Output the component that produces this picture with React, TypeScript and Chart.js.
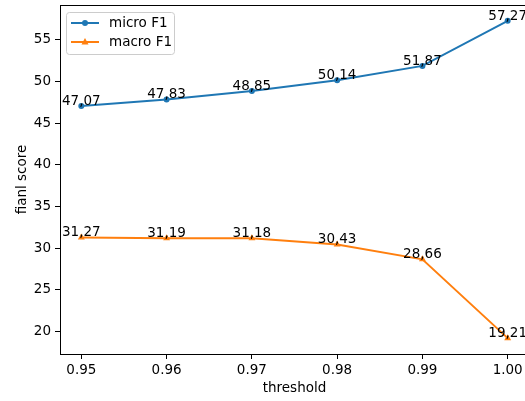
import React, { useEffect, useRef } from "react";
import { Chart, registerables } from "chart.js";

Chart.register(...registerables);

const thresholds = [0.95, 0.96, 0.97, 0.98, 0.99, 1.0];
const microF1 = [47.07, 47.83, 48.85, 50.14, 51.87, 57.27];
const macroF1 = [31.27, 31.19, 31.18, 30.43, 28.66, 19.21];
const xTickValues = [0.95, 0.96, 0.97, 0.98, 0.99, 1.0];
const yTickValues = [20, 25, 30, 35, 40, 45, 50, 55];
const seriesNames = ["micro F1", "macro F1"];

const BLUE = "#1f77b4";
const ORANGE = "#ff7f0e";
const FONT = "DejaVu Sans";
const FS = 13.5;

const CANVAS_W = 540;
const CANVAS_H = 401;

const labelPlugin = {
  id: "valueLabels",
  afterDatasetsDraw(chart: any) {
    const ctx = chart.ctx;
    ctx.save();
    ctx.font = `${FS}px "${FONT}"`;
    ctx.fillStyle = "#000";
    ctx.textAlign = "center";
    ctx.textBaseline = "bottom";
    chart.data.datasets.forEach((ds: any, di: number) => {
      const meta = chart.getDatasetMeta(di);
      meta.data.forEach((pt: any, i: number) => {
        const v = ds.data[i].y as number;
        ctx.fillText(v.toFixed(2).replace(".", ","), pt.x, pt.y + 2);
      });
    });
    ctx.restore();
  },
};

const framePlugin = {
  id: "topSpine",
  afterDraw(chart: any) {
    const { ctx, chartArea } = chart;
    ctx.save();
    ctx.strokeStyle = "#000";
    ctx.lineWidth = 1;
    ctx.beginPath();
    ctx.moveTo(chartArea.left, chartArea.top + 0.5);
    ctx.lineTo(chartArea.right, chartArea.top + 0.5);
    ctx.moveTo(chartArea.right - 0.5, chartArea.top);
    ctx.lineTo(chartArea.right - 0.5, chartArea.bottom);
    ctx.stroke();
    ctx.restore();
  },
};

const legendPlugin = {
  id: "mplLegend",
  afterDraw(chart: any) {
    const ctx = chart.ctx;
    const x0 = 66.5, y0 = 12.5, w = 108, h = 42;
    ctx.save();
    ctx.beginPath();
    const r = 3;
    ctx.moveTo(x0 + r, y0);
    ctx.lineTo(x0 + w - r, y0);
    ctx.quadraticCurveTo(x0 + w, y0, x0 + w, y0 + r);
    ctx.lineTo(x0 + w, y0 + h - r);
    ctx.quadraticCurveTo(x0 + w, y0 + h, x0 + w - r, y0 + h);
    ctx.lineTo(x0 + r, y0 + h);
    ctx.quadraticCurveTo(x0, y0 + h, x0, y0 + h - r);
    ctx.lineTo(x0, y0 + r);
    ctx.quadraticCurveTo(x0, y0, x0 + r, y0);
    ctx.closePath();
    ctx.fillStyle = "rgba(255,255,255,0.8)";
    ctx.fill();
    ctx.strokeStyle = "#cccccc";
    ctx.lineWidth = 1;
    ctx.stroke();
    const rows = [
      { y: 23, color: BLUE, style: "circle" },
      { y: 42, color: ORANGE, style: "triangle" },
    ];
    rows.forEach((row, i) => {
      ctx.strokeStyle = row.color;
      ctx.lineWidth = 2;
      ctx.beginPath();
      ctx.moveTo(71, row.y);
      ctx.lineTo(99, row.y);
      ctx.stroke();
      ctx.fillStyle = row.color;
      ctx.beginPath();
      if (row.style === "circle") {
        ctx.arc(85, row.y, 3, 0, Math.PI * 2);
      } else {
        ctx.moveTo(85, row.y - 4);
        ctx.lineTo(88.5, row.y + 2.5);
        ctx.lineTo(81.5, row.y + 2.5);
        ctx.closePath();
      }
      ctx.fill();
      ctx.fillStyle = "#000";
      ctx.font = `${FS}px "${FONT}"`;
      ctx.textAlign = "left";
      ctx.textBaseline = "middle";
      ctx.fillText(seriesNames[i], 109, row.y);
    });
    ctx.restore();
  },
};

export default function App() {
  const ref = useRef<HTMLCanvasElement | null>(null);
  useEffect(() => {
    if (!ref.current) return;
    const chart = new Chart(ref.current, {
      type: "line",
      data: {
        datasets: [
          {
            label: seriesNames[0],
            data: thresholds.map((t, i) => ({ x: t, y: microF1[i] })),
            borderColor: BLUE,
            backgroundColor: BLUE,
            borderWidth: 2,
            pointStyle: "circle",
            pointRadius: 3,
            pointBorderWidth: 0,
            tension: 0,
          },
          {
            label: seriesNames[1],
            data: thresholds.map((t, i) => ({ x: t, y: macroF1[i] })),
            borderColor: ORANGE,
            backgroundColor: ORANGE,
            borderWidth: 2,
            pointStyle: "triangle",
            pointRadius: 4,
            pointBorderWidth: 0,
            tension: 0,
          },
        ],
      },
      options: {
        responsive: false,
        animation: false,
        devicePixelRatio: 1,
        layout: { padding: { left: 0, top: 5, right: CANVAS_W - 529, bottom: 0 } },
        plugins: { legend: { display: false }, tooltip: { enabled: false } },
        scales: {
          x: {
            type: "linear",
            min: 0.9475,
            max: 1.0025,
            afterBuildTicks: (s: any) => {
              s.ticks = xTickValues.map((v) => ({ value: v }));
            },
            afterFit: (s: any) => {
              s.height = 47;
              s.paddingLeft = 0;
              s.paddingRight = 0;
            },
            ticks: {
              callback: (v: any) => Number(v).toFixed(2),
              font: { family: FONT, size: FS },
              color: "#000",
              padding: 3,
              maxRotation: 0,
              autoSkip: false,
            },
            grid: {
              drawOnChartArea: false,
              drawTicks: true,
              tickLength: 5,
              color: "#000",
            },
            border: { color: "#000", width: 1 },
            title: {
              display: true,
              text: "threshold",
              font: { family: FONT, size: FS },
              color: "#000",
              padding: { top: 0, bottom: 4 },
            },
          },
          y: {
            type: "linear",
            min: 17.307,
            max: 59.173,
            afterBuildTicks: (s: any) => {
              s.ticks = yTickValues.map((v) => ({ value: v }));
            },
            afterFit: (s: any) => {
              s.width = 60;
              s.paddingTop = 0;
              s.paddingBottom = 0;
            },
            ticks: {
              font: { family: FONT, size: FS },
              color: "#000",
              padding: 4,
            },
            grid: {
              drawOnChartArea: false,
              drawTicks: true,
              tickLength: 5,
              color: "#000",
            },
            border: { color: "#000", width: 1 },
            title: {
              display: true,
              text: "fianl score",
              font: { family: FONT, size: FS },
              color: "#000",
              padding: { top: 14, bottom: 0 },
            },
          },
        },
      } as any,
      plugins: [labelPlugin, framePlugin, legendPlugin],
    });
    return () => chart.destroy();
  }, []);
  return (
    <div
      style={{
        position: "fixed",
        left: 0,
        top: 0,
        width: 525,
        height: 401,
        overflow: "hidden",
        background: "#fff",
      }}
    >
      <canvas
        ref={ref}
        width={CANVAS_W}
        height={CANVAS_H}
        style={{ width: CANVAS_W, height: CANVAS_H, display: "block" }}
      />
    </div>
  );
}
